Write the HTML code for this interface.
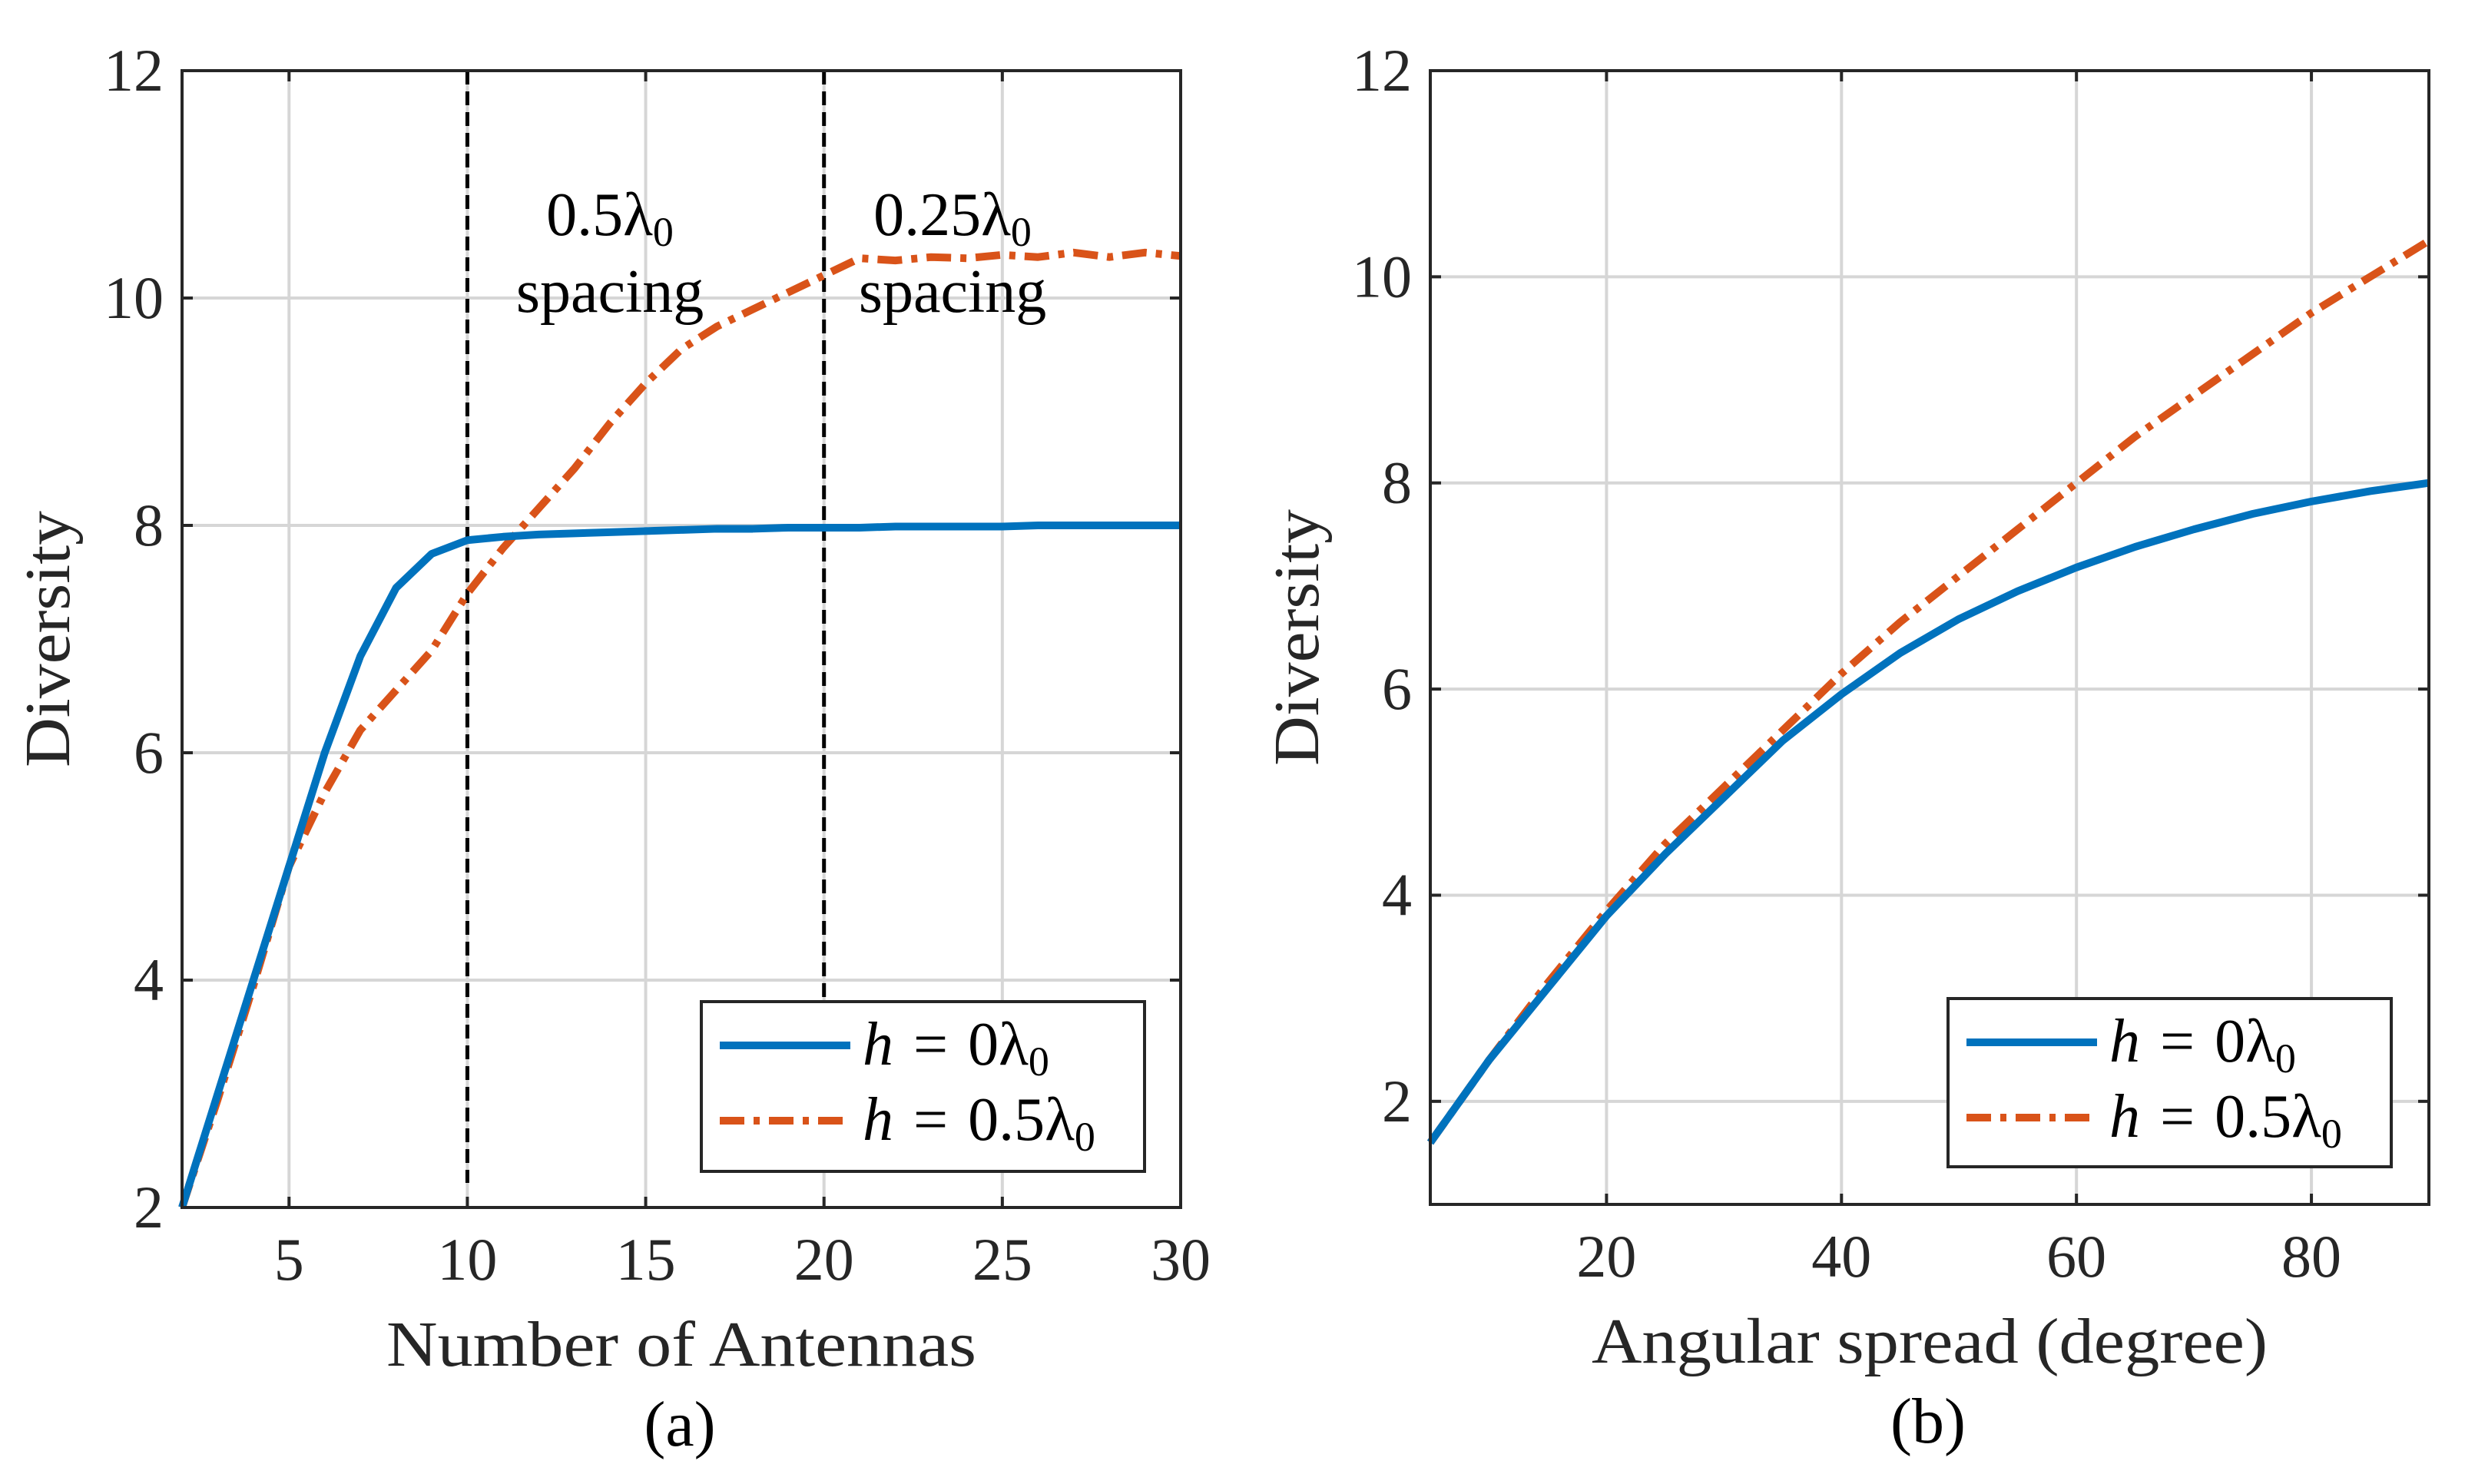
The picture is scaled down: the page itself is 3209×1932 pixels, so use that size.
<!DOCTYPE html>
<html><head><meta charset="utf-8"><style>
html,body{margin:0;padding:0;background:#fff;}
svg{display:block;font-family:"Liberation Serif",serif;}
</style></head><body>
<svg id="fig" width="3209" height="1932" viewBox="0 0 3209 1932" xmlns="http://www.w3.org/2000/svg"></svg>
<script>
// Panel (a) data
const aX = [2,3,4,5,6,7,8,9,10,11,12,13,14,15,16,17,18,19,20,21,22,23,24,25,26,27,28,29,30];
const aBlue = [2,3,4,5,6,6.85,7.45,7.75,7.87,7.9,7.92,7.93,7.94,7.95,7.96,7.97,7.97,7.98,7.98,7.98,7.99,7.99,7.99,7.99,8,8,8,8,8];
const aOrange = [2,2.95,3.95,5,5.65,6.2,6.55,6.9,7.4,7.8,8.15,8.5,8.9,9.25,9.55,9.75,9.9,10.05,10.2,10.35,10.33,10.36,10.35,10.38,10.36,10.4,10.36,10.4,10.37];
const aXTicks = [5,10,15,20,25,30];
const aYTicks = [2,4,6,8,10,12];
const aVLines = [10,20];
// Panel (b) data
const bX = [5,10,15,20,25,30,35,40,45,50,55,60,65,70,75,80,85,90];
const bBlue = [1.6,2.4,3.1,3.8,4.4,4.95,5.5,5.95,6.35,6.68,6.95,7.18,7.38,7.55,7.7,7.82,7.92,8.0];
const bOrange = [1.6,2.4,3.15,3.85,4.5,5.05,5.6,6.15,6.65,7.1,7.55,8.0,8.45,8.85,9.25,9.65,10.0,10.35];
const bXTicks = [20,40,60,80];
const bYTicks = [2,4,6,8,10,12];

const NS="http://www.w3.org/2000/svg";
const svg=document.getElementById('fig');
function el(tag,attrs,parent){const e=document.createElementNS(NS,tag);for(const k in attrs)e.setAttribute(k,attrs[k]);(parent||svg).appendChild(e);return e;}
const BLUE="#0072BD", ORANGE="#D95319";

function panel(p){
  const g=el('g',{});
  
  
  const sx=v=>p.L+(v-p.x0)/(p.x1-p.x0)*(p.R-p.L);
  const sy=v=>p.B-(v-p.y0)/(p.y1-p.y0)*(p.B-p.T);
  p.xt.forEach(t=>{
    const l=el('line',{x1:sx(t),x2:sx(t),y1:p.T,y2:p.B,stroke:'#d6d6d6','stroke-width':4},g);
    
    el('line',{x1:sx(t),x2:sx(t),y1:p.B,y2:p.B-14,stroke:'#262626','stroke-width':4},g);
    el('line',{x1:sx(t),x2:sx(t),y1:p.T,y2:p.T+14,stroke:'#262626','stroke-width':4},g);
    const tx=el('text',{x:sx(t),y:p.B+94,'text-anchor':'middle','font-size':78,fill:'#262626'},g);
    tx.textContent=t;
    
  });
  p.yt.forEach(t=>{
    const l=el('line',{x1:p.L,x2:p.R,y1:sy(t),y2:sy(t),stroke:'#d6d6d6','stroke-width':4},g);
    
    el('line',{x1:p.L,x2:p.L+14,y1:sy(t),y2:sy(t),stroke:'#262626','stroke-width':4},g);
    el('line',{x1:p.R,x2:p.R-14,y1:sy(t),y2:sy(t),stroke:'#262626','stroke-width':4},g);
    const tx=el('text',{x:p.L-24,y:sy(t)+26,'text-anchor':'end','font-size':78,fill:'#262626'},g);
    tx.textContent=t;
    
  });
  (p.vl||[]).forEach((v,i)=>{
    const l=el('line',{x1:sx(v),x2:sx(v),y1:p.T,y2:p.vlEnd[i],stroke:'#000','stroke-width':5,'stroke-dasharray':'18,9'},g);
    
  });
  const pts=(xs,ys)=>xs.map((x,i)=>sx(x)+','+sy(ys[i])).join(' ');
  const s2=el('polyline',{points:pts(p.x,p.orange),fill:'none',stroke:ORANGE,'stroke-width':10,'stroke-dasharray':'32,12,8,12','stroke-linejoin':'round'},g);
  
  const s1=el('polyline',{points:pts(p.x,p.blue),fill:'none',stroke:BLUE,'stroke-width':10,'stroke-linejoin':'round'},g);
  
  const box=el('rect',{x:p.L,y:p.T,width:p.R-p.L,height:p.B-p.T,fill:'none',stroke:'#262626','stroke-width':4},g);
  
  // legend
  const lg=el('g',{},g);
  
  const [lx,ly,lw,lh]=p.leg;
  el('rect',{x:lx,y:ly,width:lw,height:lh,fill:'#fff',stroke:'#262626','stroke-width':4},lg);
  const e1=el('line',{x1:lx+24,x2:lx+194,y1:ly+57,y2:ly+57,stroke:BLUE,'stroke-width':10},lg);
  
  const e2=el('line',{x1:lx+24,x2:lx+194,y1:ly+155,y2:ly+155,stroke:ORANGE,'stroke-width':10,'stroke-dasharray':'32,12,8,12'},lg);
  
  const t1=el('text',{x:lx+210,y:ly+82,'font-size':80,fill:'#000'},lg);
  t1.innerHTML='<tspan font-style="italic">h</tspan><tspan dx="26">=</tspan><tspan dx="26">0λ</tspan><tspan font-size="54" dy="14">0</tspan>';
  const t2=el('text',{x:lx+210,y:ly+180,'font-size':80,fill:'#000'},lg);
  t2.innerHTML='<tspan font-style="italic">h</tspan><tspan dx="26">=</tspan><tspan dx="26">0.5λ</tspan><tspan font-size="54" dy="14">0</tspan>';
  // labels
  const xl=el('text',{x:(p.L+p.R)/2,y:p.B+206,'text-anchor':'middle','font-size':84,fill:'#262626',textLength:p.xlw,lengthAdjust:'spacingAndGlyphs'},g);
  xl.textContent=p.xlabel;
  const yl=el('text',{x:0,y:0,'text-anchor':'middle','font-size':84,fill:'#262626',textLength:334,lengthAdjust:'spacingAndGlyphs',transform:`translate(${p.ylx},${(p.T+p.B)/2}) rotate(-90)`},g);
  yl.textContent='Diversity';
  const cap=el('text',{x:(p.L+p.R)/2-2,y:p.B+310,'text-anchor':'middle','font-size':84,fill:'#000'},g);
  cap.textContent=p.cap;
  return {sx,sy,g};
}

const A=panel({name:'panel-a',L:237,R:1537,T:92,B:1572,x0:2,x1:30,y0:2,y1:12,x:aX,blue:aBlue,orange:aOrange,xt:aXTicks,yt:aYTicks,
  vl:aVLines,vlEnd:[1540,1304],leg:[913,1304,577,221],xlabel:'Number of Antennas',xlw:768,ylx:90,cap:'(a)'});
panel({name:'panel-b',L:1862,R:3162,T:92,B:1568,x0:5,x1:90,y0:1,y1:12,x:bX,blue:bBlue,orange:bOrange,xt:bXTicks,yt:bYTicks,
  leg:[2536,1300,577,219],xlabel:'Angular spread (degree)',xlw:880,ylx:1716,cap:'(b)'});

function ann(x,y,html,name){const t=el('text',{x:x,y:y,'text-anchor':'middle','font-size':80,fill:'#000'},A.g);t.innerHTML=html;
  }
ann(794,306,'0.5λ<tspan font-size="54" dy="14">0</tspan>','annotation-half-lambda');
ann(794,406,'spacing','annotation-spacing-1');
ann(1240,306,'0.25λ<tspan font-size="54" dy="14">0</tspan>','annotation-quarter-lambda');
ann(1240,406,'spacing','annotation-spacing-2');
</script>
</body></html>
